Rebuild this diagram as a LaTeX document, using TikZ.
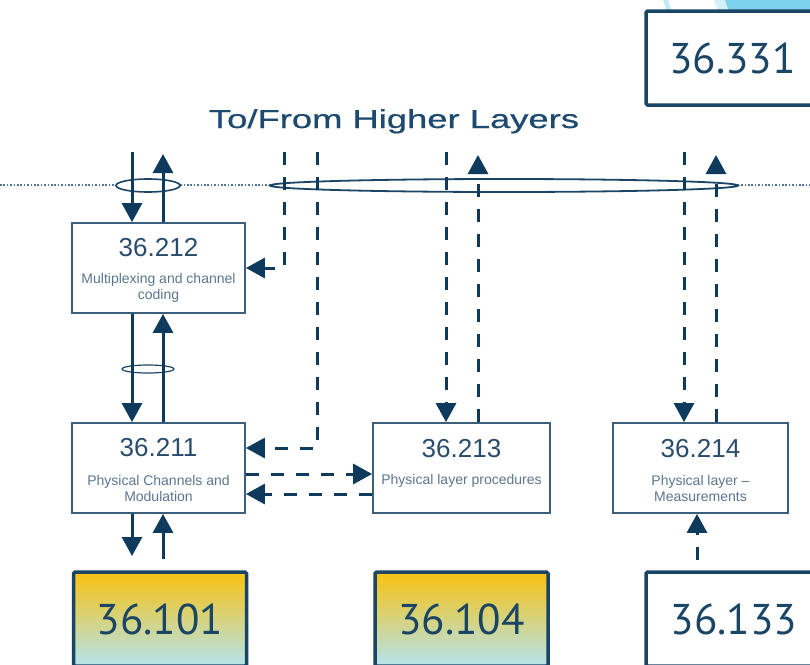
\documentclass[tikz,border=0pt]{standalone}
\usepackage{fontspec}
\setmainfont{Liberation Sans}
\newfontfamily\specfont{PT Sans}
\newfontfamily\headfont[FakeBold=0.6]{Liberation Sans}
\usetikzlibrary{arrows.meta,shapes.geometric,calc}

\definecolor{navy}{HTML}{1B4565}
\definecolor{arrowc}{HTML}{0E3A5E}
\definecolor{boxline}{HTML}{3C5F80}
\definecolor{subtxt}{HTML}{5B7690}
\definecolor{titletxt}{HTML}{2A4C6C}
\definecolor{headtxt}{HTML}{1F4A70}
\definecolor{dotc}{HTML}{52769A}
\definecolor{goldtop}{HTML}{F9C20F}
\definecolor{aquabot}{HTML}{B3E4EF}
\definecolor{cyanA}{HTML}{7DD3EE}
\definecolor{cyanB}{HTML}{D4F0F9}
\definecolor{cyanC}{HTML}{C2E9F6}

\tikzset{
  specbox/.style={draw=boxline, line width=1.8pt, minimum height=90pt, inner sep=0pt},
  boxtitle/.style={text=titletxt, font=\fontsize{26}{30}\selectfont, inner sep=0pt},
  boxsub/.style={text=subtxt, font=\fontsize{14}{16}\selectfont, align=center, inner sep=0pt},
  refbox/.style={draw=navy, line width=3.5pt, rounded corners=1.5pt, minimum width=173pt,
    minimum height=94pt, inner sep=0pt, text=navy, font=\specfont\fontsize{43}{48}\selectfont},
  goldbox/.style={refbox, top color=goldtop, bottom color=aquabot},
  plainbox/.style={refbox, fill=white},
  solidarrow/.style={draw=arrowc, line width=3pt, -{Triangle[width=20pt,length=19pt]}},
  dasharrow/.style={solidarrow, dash pattern=on 13pt off 12pt},
  ring/.style={ellipse, draw=navy, inner sep=0pt},
}

\begin{document}
\begin{tikzpicture}[x=1pt, y=-1pt]
  \clip (0,0) rectangle (810,664);

  % slide decoration in the top right corner
  \fill[cyanC] (663,0) -- (668,0) -- (672,12) -- (667,12) -- cycle;
  \fill[cyanB] (714,0) -- (726,0) -- (730,12) -- (718,12) -- cycle;
  \fill[cyanA] (725,0) -- (810,0) -- (810,12) -- (729,12) -- cycle;

  % reference specifications
  \node[plainbox] (r331) at (732.5,58) {36.331};
  \node[goldbox]  (r101) at (160,619) {36.101};
  \node[goldbox]  (r104) at (461.5,619) {36.104};
  \node[plainbox, minimum width=176pt] (r133) at (734,619) {36.133};

  % layer boundary and its service access points
  \node[text=headtxt, font=\headfont\fontsize{26}{30}\selectfont, anchor=base, inner sep=0pt]
    (hdr) at (394,128) {\scalebox{1.40}[1]{To/From Higher Layers}};
  \draw[dotc, line width=1.5pt, dash pattern=on 1.6pt off 1.8pt] (0,185) -- (810,185);
  \node[ring, fill=white, line width=1.6pt, minimum width=64pt, minimum height=13pt] (sapA) at (148,185.5) {};
  \node[ring, fill=white, line width=1.8pt, minimum width=468pt, minimum height=13pt] (sapB) at (504,185.5) {};
  \node[ring, line width=1.2pt, minimum width=52pt, minimum height=8pt] (sapC) at (148,369) {};

  % physical layer specifications
  \node[specbox, minimum width=173pt] (b212) at (158.5,268) {};
  \node[specbox, minimum width=173pt] (b211) at (158.5,468) {};
  \node[specbox, minimum width=177pt] (b213) at (461.5,468) {};
  \node[specbox, minimum width=175pt] (b214) at (700.5,468) {};

  \node[boxtitle] (t212) at (158.5,248) {36.212};
  \node[boxsub]   (s212) at (158.5,288) {Multiplexing and channel\\coding};
  \node[boxtitle] (t211) at (158.5,448) {36.211};
  \node[boxsub]   (s211) at (158.5,488) {Physical Channels and\\Modulation};
  \node[boxtitle] (t213) at (461.5,449) {36.213};
  \node[boxsub]   (s213) at (461.5,481) {Physical layer procedures};
  \node[boxtitle] (t214) at (700.5,449) {36.214};
  \node[boxsub]   (s214) at (700.5,488) {Physical layer --\\Measurements};

  % transport channels (solid)
  \coordinate (dn1) at (132,152);
  \coordinate (up1) at (163,154);
  \draw[solidarrow] (dn1) -- (b212.north -| dn1);
  \draw[solidarrow] (b212.north -| up1) -- (up1);
  \draw[solidarrow] (b212.south -| dn1) -- (b211.north -| dn1);
  \draw[solidarrow] (b211.north -| up1) -- (b212.south -| up1);
  \coordinate (dn2) at (132,556);
  \coordinate (up2) at (163,559);
  \draw[solidarrow] (b211.south -| dn2) -- (dn2);
  \draw[solidarrow] (up2) -- (b211.south -| up2);

  % control paths (dashed)
  \coordinate (c1) at (284,152);
  \coordinate (c2) at (317,152);
  \draw[dasharrow] (c1) |- (b212.east);
  \draw[dasharrow] (c2) |- ($(b211.east)+(0,-20)$);
  \draw[dasharrow] ($(b211.east)+(0,6)$) -- ($(b213.west)+(0,6)$);
  \draw[dasharrow] ($(b213.west)+(0,26)$) -- ($(b211.east)+(0,26)$);

  \coordinate (c3) at (446,152);
  \coordinate (c4) at (478,155);
  \draw[dasharrow] (c3) -- (b213.north -| c3);
  \draw[dasharrow] (b213.north -| c4) -- (c4);

  \coordinate (c5) at (684,152);
  \coordinate (c6) at (716,155);
  \draw[dasharrow] (c5) -- (b214.north -| c5);
  \draw[dasharrow] (b214.north -| c6) -- (c6);

  \coordinate (c7) at (697,560);
  \draw[dasharrow] (c7) -- (b214.south -| c7);
\end{tikzpicture}
\end{document}
